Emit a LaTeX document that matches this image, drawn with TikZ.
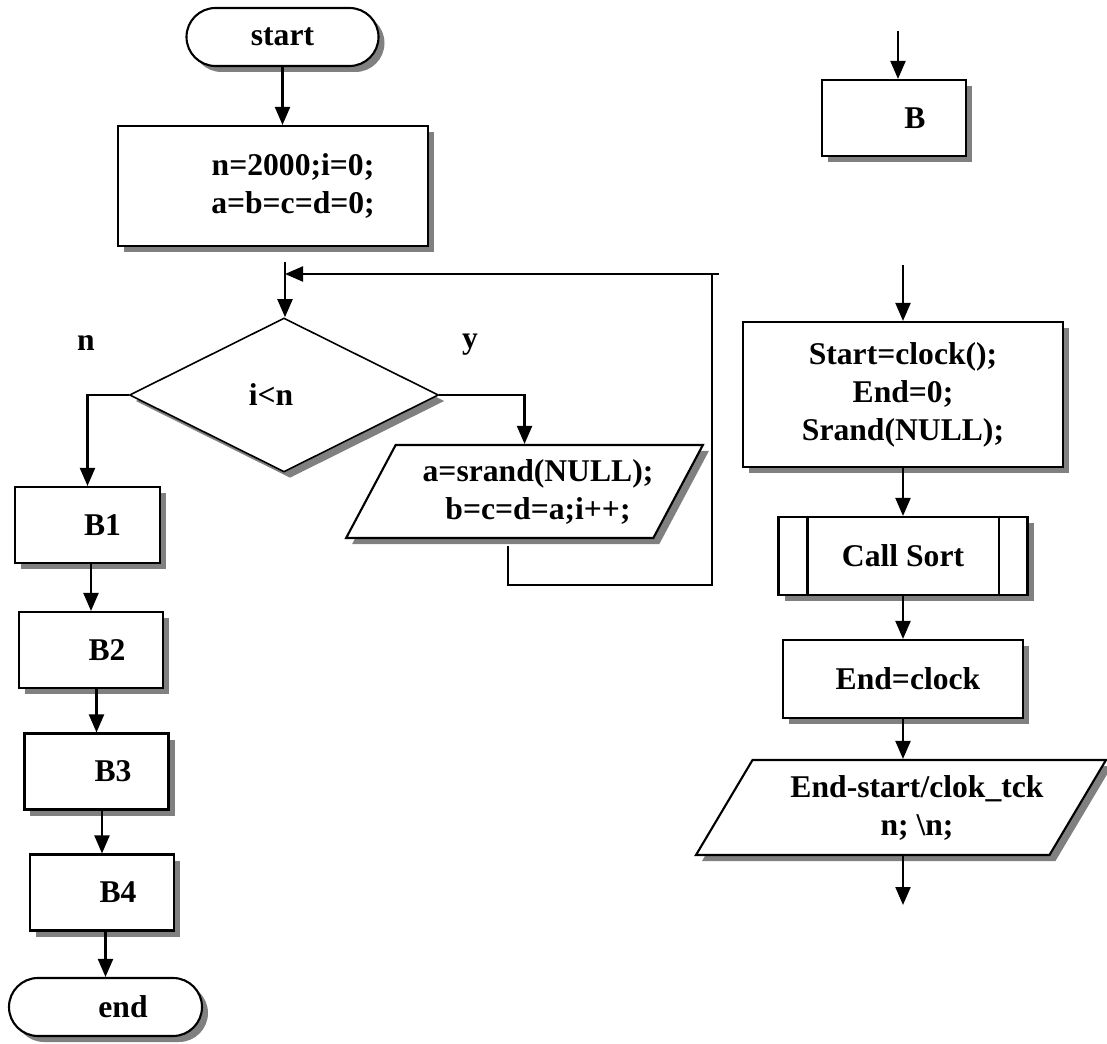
\documentclass[tikz,border=0pt]{standalone}
\usepackage{fontspec}
\setmainfont{Liberation Serif}
\usepackage{tikz}
\usetikzlibrary{positioning}
\usetikzlibrary{shapes.geometric,shapes.misc,shadows,arrows.meta}

\newcommand{\ind}[1]{\hspace*{#1}}

\begin{document}
\begin{tikzpicture}[
    font=\fontsize{18pt}{21.6pt}\selectfont\bfseries,
    >={Triangle[width=0.3cm,length=0.36cm]},
    line width=1.2pt,
    shdw/.style={drop shadow={shadow xshift=0.12cm,shadow yshift=-0.12cm,fill=black!50,opacity=1}},
    blk/.style={draw,fill=white,shdw,minimum width=2.88cm,minimum height=1.52cm,inner sep=0pt,align=center},
    term/.style={draw,fill=white,shdw,rounded rectangle,minimum width=3.84cm,minimum height=1.16cm,inner sep=0pt},
    dec/.style={draw,fill=white,shdw,diamond,minimum width=6.18cm,minimum height=3.08cm,inner sep=0pt,line width=0.9pt},
    io/.style={draw,fill=white,shdw,trapezium,trapezium stretches body,inner sep=0pt,align=center}
]
        \useasboundingbox (0,0) rectangle (22.14,-20.88);

        % left part
        \node (start)[term] at (5.65,-0.74) {start};
        \node (init)[blk,minimum width=6.2cm,minimum height=2.4cm] at (5.46,-3.72) {\ind{0.8cm}n=2000;i=0;\\ \ind{0.8cm}a=b=c=d=0;};
        \coordinate (m) at (5.70,-5.24);
        \node (test)[dec] at (5.68,-7.90) {i<n\ind{0.52cm}};
        \node (nlab) at (1.72,-6.86) {n};
        \node (ylab) at (9.40,-6.90) {y};
        \node (body)[io,trapezium left angle=52.6,trapezium right angle=127.4,minimum width=7.1cm,minimum height=1.86cm] at (10.49,-9.83) {\ind{0.54cm}a=srand(NULL);\\ \ind{0.54cm}b=c=d=a;i++;};
        \node (B1)[blk,minimum width=2.9cm] at (1.75,-10.50) {\ind{0.6cm}B1};
        \node (B2)[blk] at (1.82,-13.00) {\ind{0.64cm}B2};
        \node (B3)[blk] at (1.93,-15.43) {\ind{0.66cm}B3};
        \node (B4)[blk] at (2.04,-17.85) {\ind{0.64cm}B4};
        \node (end)[term,minimum width=3.86cm] at (2.11,-20.14) {\ind{0.7cm}end};

        \coordinate (lp) at (10.16,-10.92);
        \coordinate (lr) at (14.24,-11.70);
        \coordinate (lt) at (14.38,-5.48);

        \draw [->] (start.south) -- (start.south |- init.north);
        \draw [->] (m) -- (m |- test.north);
        \draw [->] (test.west) -| (B1.north);
        \draw [->] (test.east) -| (body.north);
        \draw (lp) |- (lr) -- (lr |- lt);
        \draw [->] (lt) -- (m |- lt);
        \draw [->] (B1.south -| B2.north) -- (B2.north);
        \draw [->] (B2.south -| B3.north) -- (B3.north);
        \draw [->] (B3.south -| B4.north) -- (B4.north);
        \draw [->] (B4.south -| end.north) -- (end.north);

        % right part
        \coordinate (bin) at (17.96,-0.62);
        \node (B)[blk] at (17.88,-2.36) {\ind{0.84cm}B};
        \coordinate (cin) at (18.06,-5.30);
        \node (clock)[blk,minimum width=6.4cm,minimum height=2.9cm] at (18.06,-7.89) {Start=clock();\\ End=0;\\ Srand(NULL);};
        \node (call)[blk,minimum width=4.98cm,minimum height=1.56cm] at (18.06,-11.12) {Call Sort};
        \node (stop)[blk,minimum width=4.8cm,minimum height=1.56cm] at (18.06,-13.58) {\ind{0.2cm}End=clock};
        \node (print)[io,trapezium left angle=48.9,trapezium right angle=131.1,minimum width=8.2cm,minimum height=1.9cm] at (18.02,-16.15) {\ind{0.64cm}End-start/clok\_tck\\ \ind{0.64cm}n; \textbackslash n;};
        \coordinate (pout) at (18.06,-18.10);

        \draw ([xshift=0.6cm]call.north west) -- ([xshift=0.6cm]call.south west);
        \draw ([xshift=-0.6cm]call.north east) -- ([xshift=-0.6cm]call.south east);

        \draw [->] (bin) -- (bin |- B.north);
        \draw [->] (cin) -- (clock);
        \draw [->] (clock) -- (call);
        \draw [->] (call) -- (stop);
        \draw [->] (stop) -- (cin |- print.north);
        \draw [->] (cin |- print.south) -- (pout);
    \end{tikzpicture}
\end{document}
